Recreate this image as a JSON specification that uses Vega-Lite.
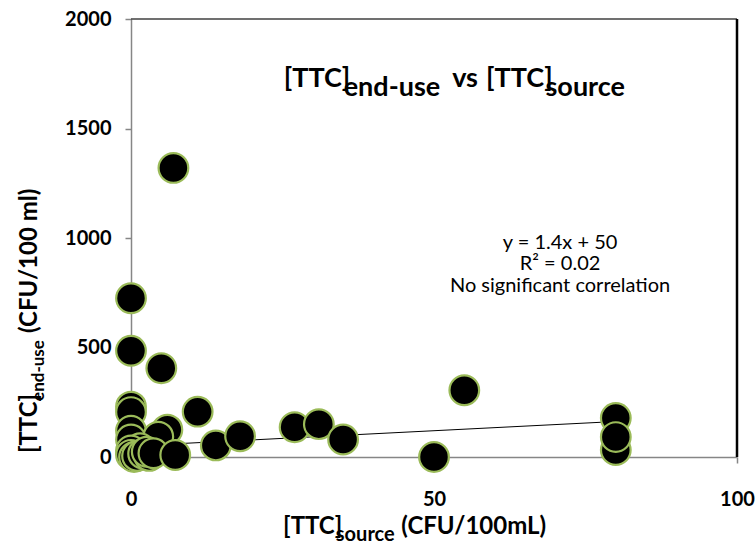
{
  "$schema": "https://vega.github.io/schema/vega-lite/v6.json",
  "width": 606,
  "height": 438,
  "autosize": {"type": "none"},
  "padding": {"left": 131, "top": 19, "right": 19, "bottom": 87},
  "background": "white",
  "config": {
    "view": {"stroke": null},
    "font": "Lato",
    "axis": {"grid": false}
  },
  "datasets": {
    "points": [
      {"source": 7, "enduse": 1320},
      {"source": 0, "enduse": 725},
      {"source": 0, "enduse": 485},
      {"source": 5, "enduse": 405},
      {"source": 0, "enduse": 230},
      {"source": 11, "enduse": 207},
      {"source": 0, "enduse": 205},
      {"source": 0, "enduse": 120},
      {"source": 6, "enduse": 125},
      {"source": 0, "enduse": 80},
      {"source": 4.5, "enduse": 93},
      {"source": 1.5, "enduse": 40},
      {"source": 0, "enduse": 30},
      {"source": 0, "enduse": 10},
      {"source": 0.5, "enduse": 0},
      {"source": 1, "enduse": 5},
      {"source": 2, "enduse": 15},
      {"source": 3, "enduse": 5},
      {"source": 2.6, "enduse": 24},
      {"source": 3.7, "enduse": 17},
      {"source": 7.3, "enduse": 9},
      {"source": 14, "enduse": 53},
      {"source": 18, "enduse": 95},
      {"source": 27, "enduse": 136},
      {"source": 31, "enduse": 150},
      {"source": 35, "enduse": 80},
      {"source": 50, "enduse": 0},
      {"source": 55, "enduse": 305},
      {"source": 80, "enduse": 178},
      {"source": 80, "enduse": 32},
      {"source": 80, "enduse": 91}
    ],
    "trend": [
      {"source": 0, "enduse": 50},
      {"source": 80, "enduse": 162}
    ],
    "one": [{}]
  },
  "layer": [
    {
      "data": {"name": "trend"},
      "mark": {"type": "line", "color": "black", "strokeWidth": 1},
      "encoding": {
        "x": {"field": "source", "type": "quantitative", "scale": {"domain": [0, 100], "nice": false},
          "axis": {"title": null, "values": [0, 50, 100], "format": "d", "domainColor": "#868686", "domainWidth": 1.5, "tickColor": "#868686", "tickWidth": 1.5, "tickSize": 6, "labelFont": "Lato", "labelFontWeight": "bold", "labelFontSize": 20, "labelColor": "black", "labelPadding": 26, "labelFlush": false}},
        "y": {"field": "enduse", "type": "quantitative", "scale": {"domain": [0, 2000], "nice": false},
          "axis": {"title": null, "values": [0, 500, 1000, 1500, 2000], "format": "d", "domainColor": "#868686", "domainWidth": 1.5, "tickColor": "#868686", "tickWidth": 1.5, "tickSize": 6, "labelFont": "Lato", "labelFontWeight": "bold", "labelFontSize": 20, "labelColor": "black", "labelPadding": 14}}
      }
    },
    {
      "data": {"name": "one"},
      "mark": {"type": "rule", "color": "#404040", "strokeWidth": 1.5},
      "encoding": {"x": {"datum": 0}, "x2": {"datum": 100}, "y": {"datum": 2000}}
    },
    {
      "data": {"name": "one"},
      "mark": {"type": "rule", "color": "black", "strokeWidth": 2.5},
      "encoding": {"x": {"datum": 100}, "y": {"datum": 0}, "y2": {"datum": 2000}}
    },
    {
      "data": {"name": "points"},
      "mark": {"type": "point", "shape": "circle", "filled": true, "color": "black", "stroke": "#9BBB59", "strokeWidth": 2.2, "opacity": 1, "size": 880},
      "encoding": {
        "x": {"field": "source", "type": "quantitative"},
        "y": {"field": "enduse", "type": "quantitative"}
      }
    },
    {
      "data": {"name": "one"},
      "mark": {"type": "text", "text": "[TTC]", "font": "Lato", "fontWeight": "bold", "fontSize": 27, "align": "left", "baseline": "alphabetic"},
      "encoding": {"x": {"datum": 25.2}, "y": {"datum": 1689}}
    },
    {
      "data": {"name": "one"},
      "mark": {"type": "text", "text": "end-use", "font": "Lato", "fontWeight": "bold", "fontSize": 27, "align": "left", "baseline": "alphabetic"},
      "encoding": {"x": {"datum": 35.1}, "y": {"datum": 1650}}
    },
    {
      "data": {"name": "one"},
      "mark": {"type": "text", "text": "vs", "font": "Lato", "fontWeight": "bold", "fontSize": 27, "align": "left", "baseline": "alphabetic"},
      "encoding": {"x": {"datum": 53.0}, "y": {"datum": 1689}}
    },
    {
      "data": {"name": "one"},
      "mark": {"type": "text", "text": "[TTC]", "font": "Lato", "fontWeight": "bold", "fontSize": 27, "align": "left", "baseline": "alphabetic"},
      "encoding": {"x": {"datum": 58.6}, "y": {"datum": 1689}}
    },
    {
      "data": {"name": "one"},
      "mark": {"type": "text", "text": "source", "font": "Lato", "fontWeight": "bold", "fontSize": 27, "align": "left", "baseline": "alphabetic"},
      "encoding": {"x": {"datum": 68.4}, "y": {"datum": 1650}}
    },
    {
      "data": {"name": "one"},
      "mark": {"type": "text", "text": "y = 1.4x + 50", "font": "Lato", "fontSize": 20, "align": "center", "baseline": "alphabetic"},
      "encoding": {"x": {"datum": 70.8}, "y": {"datum": 952}}
    },
    {
      "data": {"name": "one"},
      "mark": {"type": "text", "text": "R² = 0.02", "font": "Lato", "fontSize": 20, "align": "center", "baseline": "alphabetic"},
      "encoding": {"x": {"datum": 70.8}, "y": {"datum": 853}}
    },
    {
      "data": {"name": "one"},
      "mark": {"type": "text", "text": "No significant correlation", "font": "Lato", "fontSize": 20, "align": "center", "baseline": "alphabetic"},
      "encoding": {"x": {"datum": 70.8}, "y": {"datum": 754}}
    },
    {
      "data": {"name": "one"},
      "mark": {"type": "text", "text": "[TTC]", "font": "Lato", "fontWeight": "bold", "fontSize": 24, "align": "left", "baseline": "alphabetic"},
      "encoding": {"x": {"datum": 25.1}, "y": {"datum": -352}}
    },
    {
      "data": {"name": "one"},
      "mark": {"type": "text", "text": "source", "font": "Lato", "fontWeight": "bold", "fontSize": 20, "align": "left", "baseline": "alphabetic"},
      "encoding": {"x": {"datum": 33.8}, "y": {"datum": -384}}
    },
    {
      "data": {"name": "one"},
      "mark": {"type": "text", "text": "(CFU/100mL)", "font": "Lato", "fontWeight": "bold", "fontSize": 24, "align": "left", "baseline": "alphabetic"},
      "encoding": {"x": {"datum": 44.6}, "y": {"datum": -352}}
    },
    {
      "data": {"name": "one"},
      "mark": {"type": "text", "text": "[TTC]", "font": "Lato", "fontWeight": "bold", "fontSize": 24, "align": "left", "baseline": "alphabetic", "angle": 270},
      "encoding": {"x": {"datum": -15.5}, "y": {"datum": 18}}
    },
    {
      "data": {"name": "one"},
      "mark": {"type": "text", "text": "end-use", "font": "Lato", "fontWeight": "bold", "fontSize": 17, "align": "left", "baseline": "alphabetic", "angle": 270},
      "encoding": {"x": {"datum": -14.3}, "y": {"datum": 256}}
    },
    {
      "data": {"name": "one"},
      "mark": {"type": "text", "text": "(CFU/100 ml)", "font": "Lato", "fontWeight": "bold", "fontSize": 24, "align": "left", "baseline": "alphabetic", "angle": 270},
      "encoding": {"x": {"datum": -15.5}, "y": {"datum": 566}}
    }
  ]
}
